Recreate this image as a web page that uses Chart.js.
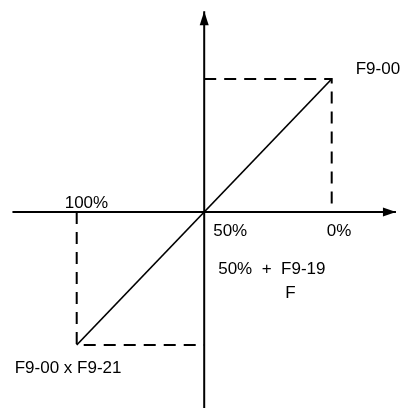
<!DOCTYPE html>
<html>
<head>
<meta charset="utf-8">
<script src="https://cdn.jsdelivr.net/npm/chart.js@4/dist/chart.umd.min.js"></script>
<style>
	html, body { margin:0; padding:0; background:#fff; }
	#wrap { position:relative; width:403px; height:408px; }
</style>
</head>
<body>
<div id="wrap"><canvas id="c" width="403" height="408"></canvas></div>
<script>
// x axis runs 100% -> 50% -> 0% from left to right
const xTicks = [100, 50, 0];
const xTickLabels = ['100%', '50%', '0%'];

// the characteristic line, end points (y normalised to F9-00)
const lineX = [100, 0];
const lineY = [-1, 1];
const topLabel = 'F9-00';
const bottomLabel = 'F9-00 x F9-21';
const noteLines = ['50%  +  F9-19', 'F'];

// axis extents in data units (arrow tip at the second value)
const axisX = [125.2, -25.2];
const axisY = [-1.6, 1.51];

const centre = xTicks[1];

const FONT = '17px "Liberation Sans", Arial, sans-serif';

const arrows = {
	id: 'arrows',
	afterDatasetsDraw(chart) {
		const {ctx, scales:{x, y}} = chart;
		ctx.save();
		ctx.fillStyle = '#000';
		// right arrow
		let tx = x.getPixelForValue(axisX[1]), ty = y.getPixelForValue(0);
		ctx.beginPath();
		ctx.moveTo(tx, ty);
		ctx.lineTo(tx - 13, ty - 4.5);
		ctx.lineTo(tx - 13, ty + 4.5);
		ctx.closePath();
		ctx.fill();
		// up arrow
		tx = x.getPixelForValue(centre); ty = y.getPixelForValue(axisY[1]);
		ctx.beginPath();
		ctx.moveTo(tx, ty);
		ctx.lineTo(tx - 4.5, ty + 14);
		ctx.lineTo(tx + 4.5, ty + 14);
		ctx.closePath();
		ctx.fill();
		ctx.restore();
	}
};

const labels = {
	id: 'labels',
	afterDraw(chart) {
		const {ctx, scales:{x, y}} = chart;
		ctx.save();
		ctx.font = FONT;
		ctx.fillStyle = '#000';
		ctx.textBaseline = 'alphabetic';
		ctx.textAlign = 'left';
		const y0 = y.getPixelForValue(0);
		const off = [[-12, -4], [9, 24], [-5, 24]];
		xTicks.forEach((v, i) => {
			ctx.fillText(xTickLabels[i], x.getPixelForValue(v) + off[i][0], y0 + off[i][1]);
		});
		ctx.fillText(topLabel, x.getPixelForValue(lineX[1]) + 24, y.getPixelForValue(lineY[1]) - 5);
		ctx.fillText(bottomLabel, x.getPixelForValue(lineX[0]) - 62, y.getPixelForValue(lineY[0]) + 28);
		const cx = x.getPixelForValue(centre);
		ctx.fillText(noteLines[0], cx + 14, y0 + 62);
		ctx.fillText(noteLines[1], cx + 81, y0 + 86);
		ctx.restore();
	}
};

const pts = (xs, ys) => xs.map((v, i) => ({x:v, y:ys[i]}));

new Chart(document.getElementById('c'), {
	type: 'line',
	data: {
		datasets: [
			{ // horizontal axis
				data: pts(axisX, [0, 0]),
				borderColor: '#000', borderWidth: 2, pointRadius: 0,
			},
			{ // vertical axis
				data: pts([centre, centre], axisY),
				borderColor: '#000', borderWidth: 2, pointRadius: 0,
			},
			{ // dashed guide to the top point
				data: pts([centre, lineX[1], lineX[1]], [lineY[1], lineY[1], 0]),
				borderColor: '#000', borderWidth: 2, borderDash: [12, 8], pointRadius: 0,
			},
			{ // dashed guide to the bottom point
				data: pts([lineX[0], lineX[0], centre], [0, lineY[0], lineY[0]]),
				borderColor: '#000', borderWidth: 2, borderDash: [12, 8], pointRadius: 0,
			},
			{ // characteristic
				data: pts(lineX, lineY),
				borderColor: '#000', borderWidth: 1.7, pointRadius: 0,
			},
		]
	},
	options: {
		responsive: false,
		animation: false,
		layout: { padding: 0 },
		plugins: {
			legend: { display: false },
			tooltip: { enabled: false },
		},
		scales: {
			x: { type: 'linear', reverse: true, min: -27.96, max: 130.08, display: false },
			y: { type: 'linear', min: -1.474, max: 1.594, display: false },
		},
	},
	plugins: [arrows, labels]
});
</script>
</body>
</html>
